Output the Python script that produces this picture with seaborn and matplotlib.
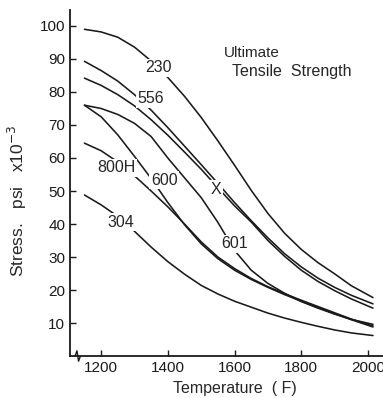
import matplotlib
matplotlib.use("Agg")
import matplotlib.pyplot as plt
import numpy as np
import pandas as pd
import seaborn as sns

# values (temperature F, stress psi x10^-3)
temp = [1150, 1200, 1250, 1300, 1350, 1400, 1450, 1500, 1550,
        1600, 1650, 1700, 1750, 1800, 1850, 1900, 1950, 2015]

stress_230 = [99.0, 98.2, 96.6, 93.6, 89.4, 84.4, 78.7, 72.3, 65.2,
              57.8, 50.2, 43.2, 37.2, 32.3, 28.3, 24.9, 21.3, 17.7]
stress_556 = [89.3, 86.5, 83.3, 79.2, 74.5, 69.2, 63.6, 58.0, 52.3,
              46.5, 41.0, 35.8, 31.0, 27.0, 23.6, 20.8, 18.4, 15.8]
stress_x = [84.2, 82.0, 79.2, 75.8, 71.6, 66.9, 61.8, 56.6, 51.0,
            45.5, 40.6, 35.0, 30.2, 26.0, 22.6, 19.8, 17.3, 14.5]
stress_601 = [76.0, 75.0, 73.2, 70.5, 66.5, 60.0, 54.0, 48.0, 40.5,
              32.0, 26.0, 22.0, 19.0, 16.5, 14.5, 12.7, 11.1, 9.6]
stress_600 = [76.0, 72.5, 67.0, 60.5, 53.8, 46.5, 39.8, 34.0, 29.5,
              26.0, 23.2, 20.8, 18.6, 16.6, 14.7, 12.8, 11.0, 8.8]
stress_800h = [64.5, 62.2, 58.8, 54.6, 50.0, 45.2, 40.0, 34.6, 30.0,
               26.5, 23.5, 21.0, 18.9, 16.9, 15.0, 13.1, 11.2, 9.1]
stress_304 = [48.8, 45.8, 42.3, 37.8, 33.0, 28.6, 24.8, 21.4, 18.8,
              16.6, 14.8, 13.0, 11.5, 10.2, 9.0, 7.9, 7.0, 6.2]

alloys = ["230", "556", "X", "601", "600", "800H", "304"]
label_temp = [1371, 1350, 1545, 1599, 1389, 1245, 1260]
label_stress = [87.3, 78.0, 50.6, 34.0, 53.3, 57.0, 40.6]

curves = {
    "230": stress_230,
    "556": stress_556,
    "X": stress_x,
    "601": stress_601,
    "600": stress_600,
    "800H": stress_800h,
    "304": stress_304,
}

df = pd.concat(
    [pd.DataFrame({"alloy": k, "temp": temp, "stress": s}) for k, s in curves.items()],
    ignore_index=True,
)

sns.set_theme(style="ticks")
plt.rcParams["font.family"] = ["Liberation Sans", "DejaVu Sans"]

fig = plt.figure(figsize=(3.83, 3.98), dpi=100)
ax = fig.add_axes([0.183, 0.1055, 0.817, 0.869])

for name in alloys:
    sub = df[df["alloy"] == name]
    sns.lineplot(data=sub, x="temp", y="stress", ax=ax, color="#1a1a1a",
                 linewidth=1.15, sort=False, estimator=None, legend=False)

for name, lt, ls in zip(alloys, label_temp, label_stress):
    ax.text(lt, ls, name, fontsize=11.5, ha="center", va="center", zorder=5,
            bbox=dict(facecolor="white", edgecolor="none", pad=1.0))

ax.text(0.49, 0.864, "Ultimate", transform=ax.transAxes, fontsize=11)
ax.text(0.518, 0.809, "Tensile  Strength", transform=ax.transAxes, fontsize=11.5)

ax.set_xlim(1107, 2045)
ax.set_ylim(0, 104.8)
ax.set_xticks([1200, 1400, 1600, 1800, 2000])
ax.set_yticks(np.arange(10, 101, 10))
ax.tick_params(direction="in", length=4, width=1, labelsize=11, colors="#1a1a1a")
ax.set_xlabel("Temperature  ( F)", fontsize=11.5)
ax.set_ylabel("Stress.   psi   x10$^{-3}$", fontsize=12.5)
ax.xaxis.set_label_coords(0.527, -0.072)
ax.yaxis.set_label_coords(-0.13, 0.45)
sns.despine(ax=ax)
for sp in ["left", "bottom"]:
    ax.spines[sp].set_linewidth(1.3)
    ax.spines[sp].set_color("#1a1a1a")

# axis break mark near the origin
ax.plot([0.016, 0.022, 0.027, 0.033], [0.0, 0.015, -0.015, 0.0],
        transform=ax.transAxes, color="#1a1a1a", linewidth=1.0, clip_on=False)

fig.savefig("out.png", dpi=100)
